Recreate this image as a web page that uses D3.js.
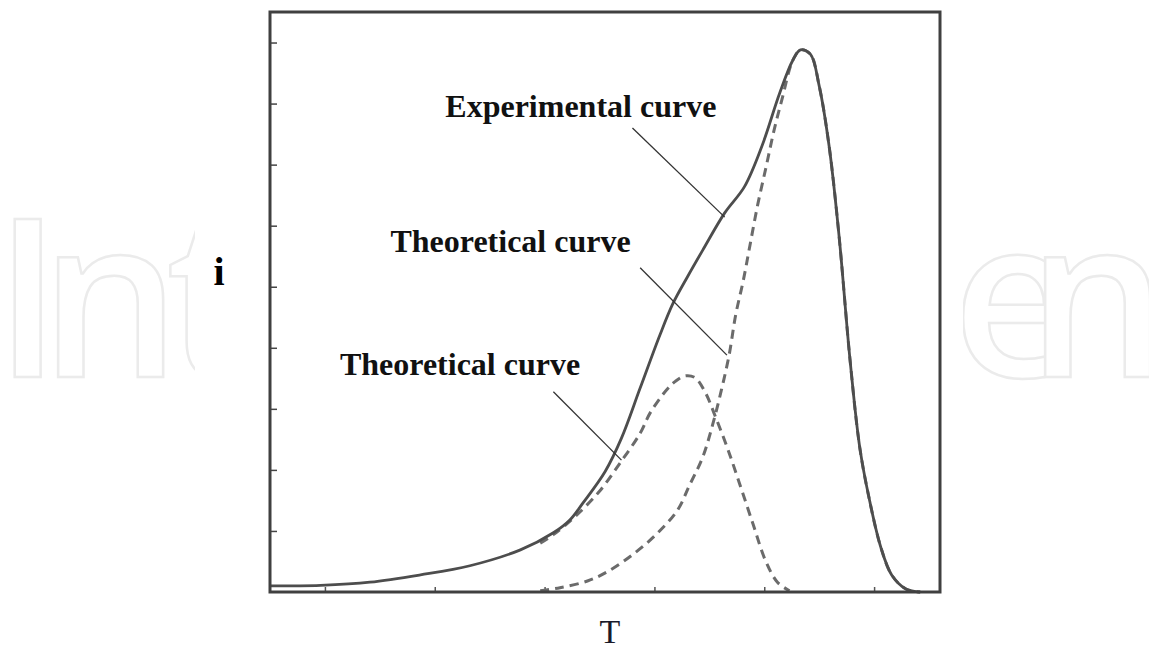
<!DOCTYPE html>
<head>
<meta charset="utf-8">
<style>
  body { margin:0; background:#fff; }
  svg { display:block; }
  .lbl { font-family:"Liberation Serif", serif; font-weight:bold; font-size:32px; fill:#111; }
  .mark { font-family:"Open Sans", sans-serif; font-weight:600; font-size:221px; fill:#fff; stroke:#ebebeb; stroke-width:2.5; }
</style>
<script src="https://d3js.org/d3.v7.min.js"></script>
</head>
<body>
<script>

var width = 1149;
var height = 649;

// T values and i values
var expT = [0.5, 0.96, 1.41, 1.87, 2.32, 2.78, 3.08, 3.23, 3.35, 3.55, 3.70, 3.87, 4.05, 4.17, 4.30, 4.44, 4.64, 4.82, 4.98, 5.14, 5.26, 5.33, 5.42, 5.50, 5.59, 5.68, 5.78, 5.87, 5.96, 6.06, 6.16, 6.29, 6.42];
var expI = [0.10, 0.11, 0.16, 0.28, 0.43, 0.69, 0.97, 1.18, 1.46, 1.97, 2.52, 3.34, 4.21, 4.73, 5.16, 5.60, 6.21, 6.64, 7.31, 8.17, 8.71, 8.88, 8.81, 8.29, 7.31, 5.85, 3.82, 2.36, 1.49, 0.74, 0.28, 0.05, 0.0];

var th1T = [2.96, 3.08, 3.28, 3.50, 3.69, 3.87, 3.96, 4.11, 4.19, 4.28, 4.37, 4.46, 4.56, 4.67, 4.78, 4.90, 5.01, 5.12, 5.23];
var th1I = [0.80, 0.94, 1.24, 1.65, 2.12, 2.60, 2.93, 3.31, 3.45, 3.54, 3.51, 3.28, 2.85, 2.33, 1.75, 1.10, 0.52, 0.16, 0.02];

var th2T = [2.96, 3.14, 3.39, 3.57, 3.80, 4.02, 4.21, 4.32, 4.44, 4.53, 4.61, 4.68, 4.74, 4.81, 4.87, 4.94, 5.02, 5.09, 5.16, 5.26, 5.33, 5.42, 5.50, 5.59, 5.68, 5.78, 5.87, 5.96, 6.06, 6.16, 6.29, 6.42];
var th2I = [0.02, 0.07, 0.18, 0.33, 0.61, 0.95, 1.34, 1.75, 2.21, 2.74, 3.31, 3.88, 4.54, 5.11, 5.68, 6.34, 6.99, 7.57, 8.06, 8.71, 8.88, 8.81, 8.29, 7.31, 5.85, 3.82, 2.36, 1.49, 0.74, 0.28, 0.05, 0.0];

var xTicks = [1, 2, 3, 4, 5, 6];
var yTicks = [1, 2, 3, 4, 5, 6, 7, 8, 9];

var labels = ["Experimental curve", "Theoretical curve", "Theoretical curve"];
var labelT = [3.33, 2.69, 2.23];
var labelI = [7.78, 5.57, 3.55];
// leader lines: from (T0,I0) to (T1,I1)
var leadT0 = [3.80, 3.87, 3.08];
var leadI0 = [7.60, 5.31, 3.28];
var leadT1 = [4.64, 4.66, 3.70];
var leadI1 = [6.14, 3.88, 2.16];

var svg = d3.select("body").append("svg")
    .attr("width", width)
    .attr("height", height);

// faint watermark, only its ends show beside the chart
svg.append("clipPath").attr("id", "leftcut")
  .append("rect").attr("x", 0).attr("y", 0).attr("width", 195).attr("height", height);

svg.append("text")
    .attr("class", "mark")
    .attr("clip-path", "url(#leftcut)")
    .attr("x", "-6 40 166")
    .attr("y", 377)
    .text("Int");

svg.append("text")
    .attr("class", "mark")
    .attr("x", "952 1027")
    .attr("y", 377)
    .text("en");

svg.append("rect")
    .attr("x", 195).attr("y", 200)
    .attr("width", 963 - 195).attr("height", 200)
    .attr("fill", "#fff");

var x = d3.scaleLinear().domain([0.5, 6.6]).range([270, 940]);
var y = d3.scaleLinear().domain([0, 9.5]).range([592, 12]);

svg.append("g")
    .attr("transform", "translate(270,0)")
    .call(d3.axisLeft(y).tickValues(yTicks).tickSize(-7).tickFormat(""))
    .call(function(g) { g.select(".domain").remove(); })
    .selectAll("line").attr("stroke", "#444").attr("stroke-width", 1.5);

svg.append("g")
    .attr("transform", "translate(0,592)")
    .call(d3.axisBottom(x).tickValues(xTicks).tickSize(-5).tickFormat(""))
    .call(function(g) { g.select(".domain").remove(); })
    .selectAll("line").attr("stroke", "#555").attr("stroke-width", 1.5);

var line = d3.line()
    .x(function(d) { return x(d[0]); })
    .y(function(d) { return y(d[1]); })
    .curve(d3.curveCatmullRom.alpha(0.5));

function pts(a, b) { return a.map(function(v, k) { return [v, b[k]]; }); }

svg.append("path")
    .attr("d", line(pts(th1T, th1I)))
    .attr("fill", "none").attr("stroke", "#6b6b6b")
    .attr("stroke-width", 3).attr("stroke-dasharray", "9,6");

svg.append("path")
    .attr("d", line(pts(th2T, th2I)))
    .attr("fill", "none").attr("stroke", "#6b6b6b")
    .attr("stroke-width", 3).attr("stroke-dasharray", "9,6");

svg.append("path")
    .attr("d", line(pts(expT, expI)))
    .attr("fill", "none").attr("stroke", "#4d4d4d")
    .attr("stroke-width", 2.8);

// frame
svg.append("rect")
    .attr("x", 270).attr("y", 12)
    .attr("width", 670).attr("height", 580)
    .attr("fill", "none").attr("stroke", "#404040").attr("stroke-width", 3);

// leader lines
svg.selectAll("line.lead")
    .data(labels)
    .enter().append("line")
    .attr("class", "lead")
    .attr("x1", function(d, k) { return x(leadT0[k]); })
    .attr("y1", function(d, k) { return y(leadI0[k]); })
    .attr("x2", function(d, k) { return x(leadT1[k]); })
    .attr("y2", function(d, k) { return y(leadI1[k]); })
    .attr("stroke", "#333").attr("stroke-width", 1.3);

svg.selectAll("text.lbl")
    .data(labels)
    .enter().append("text")
    .attr("class", "lbl")
    .attr("text-anchor", "middle")
    .attr("x", function(d, k) { return x(labelT[k]); })
    .attr("y", function(d, k) { return y(labelI[k]); })
    .text(function(d) { return d; });

// axis titles
svg.append("text")
    .attr("x", 219).attr("y", 285)
    .attr("text-anchor", "middle")
    .style("font-family", "Liberation Serif, serif")
    .style("font-weight", "bold")
    .style("font-size", "40px")
    .text("i");

svg.append("text")
    .attr("x", 610).attr("y", 643)
    .attr("text-anchor", "middle")
    .style("font-family", "Liberation Serif, serif")
    .style("font-size", "34px")
    .style("fill", "#1a1a2a")
    .text("T");

</script>
</body>
